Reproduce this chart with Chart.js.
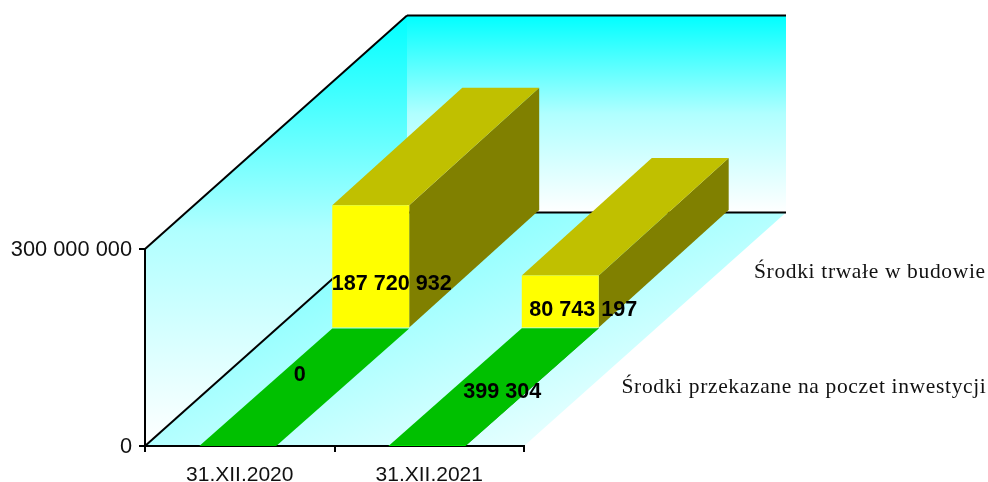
<!DOCTYPE html>
<html>
<head>
<meta charset="utf-8">
<style>
html, body { margin: 0; padding: 0; background: #fff; overflow: hidden; }
#wrap { position: relative; width: 988px; height: 482px; }
</style>
<script src="https://cdn.jsdelivr.net/npm/chart.js@4"></script>
</head>
<body>
<div id="wrap"><canvas id="chart"></canvas></div>
<script>
const categories = ["31.XII.2020", "31.XII.2021"];
const seriesNames = ["Środki przekazane na poczet inwestycji", "Środki trwałe w budowie"];
const advanceValues = [0, 399304];
const constructionValues = [187720932, 80743197];
const yTicks = [0, 300000000];

// full depth of the floor in pixels, and where each row starts and ends along it
const depthX = 262;
const depthY = -233.5;
const rowX = [-2, 131, 261];
const rowY = [0, -117.5, -235];

// front, top, side colours of each row
const faces = [
    { front: "#00ff00", top: "#00c000", side: "#008000" },
    { front: "#ffff00", top: "#c0c000", side: "#808000" }
];

// hand placed value labels, relative to the middle of the front face
const labelNudge = [
    [[62, -71], [75, -53]],
    [[21, 18], [23, 9]]
];
const nameNudge = [[0, -0.5], [1.5, 1.5]];

function spaced(v) {
    return String(v).replace(/\B(?=(\d{3})+$)/g, " ");
}

function poly(ctx, pts, fill) {
    ctx.beginPath();
    ctx.moveTo(pts[0][0], pts[0][1]);
    for (let i = 1; i < pts.length; i++) ctx.lineTo(pts[i][0], pts[i][1]);
    ctx.closePath();
    ctx.fillStyle = fill;
    ctx.fill();
}

function line(ctx, x1, y1, x2, y2) {
    ctx.beginPath();
    ctx.moveTo(x1, y1);
    ctx.lineTo(x2, y2);
    ctx.stroke();
}

function wallGradient(ctx, y1, y2) {
    const g = ctx.createLinearGradient(0, y1, 0, y2);
    g.addColorStop(0, "#00ffff");
    g.addColorStop(0.5, "#b0ffff");
    g.addColorStop(1, "#ffffff");
    return g;
}

const room = {
    id: "room",
    beforeDraw(chart) {
        const ctx = chart.ctx;
        const y = chart.scales.y;
        const { left, right } = chart.chartArea;
        const bottom = y.getPixelForValue(yTicks[0]);
        const top = y.getPixelForValue(yTicks[1]);
        const backBottom = bottom + depthY;
        const backTop = top + depthY;
        const backLeft = left + depthX;
        const backRight = right + depthX;

        // back wall
        poly(ctx, [[backLeft, backTop], [backRight, backTop], [backRight, backBottom], [backLeft, backBottom]],
            wallGradient(ctx, backTop, backBottom));

        // left wall
        poly(ctx, [[left, bottom], [left, top], [backLeft, backTop], [backLeft, backBottom]],
            wallGradient(ctx, backTop, bottom));

        // floor, shaded across its diagonal and not quite white at the front corner
        const nx = backRight - left;
        const ny = backBottom - bottom;
        const len = nx * nx + ny * ny;
        const run = 1.25 * ((right - backLeft) * -ny + (bottom - backBottom) * nx) / len;
        const floor = ctx.createLinearGradient(backLeft, backBottom, backLeft - ny * run, backBottom + nx * run);
        floor.addColorStop(0, "#80ffff");
        floor.addColorStop(1, "#ffffff");
        poly(ctx, [[left, bottom], [backLeft, backBottom], [backRight, backBottom], [right, bottom]], floor);

        ctx.save();
        ctx.strokeStyle = "#000";
        ctx.lineWidth = 2;
        line(ctx, left, top, backLeft, backTop);
        line(ctx, backLeft, backTop, backRight, backTop);
        line(ctx, left, bottom, backLeft, backBottom);
        line(ctx, backLeft, backBottom, backRight, backBottom);
        ctx.restore();
    },
    beforeDatasetDraw(chart, args) {
        const ctx = chart.ctx;
        const i = args.index;
        const dx = rowX[i + 1] - rowX[i];
        const dy = rowY[i + 1] - rowY[i];
        const col = faces[i];
        ctx.save();
        ctx.translate(rowX[i], rowY[i]);
        args.meta.data.forEach(bar => {
            const p = bar.getProps(["x", "y", "base", "width"], true);
            const l = p.x - p.width / 2;
            const r = p.x + p.width / 2;
            poly(ctx, [[r, p.base], [r, p.y], [r + dx, p.y + dy], [r + dx, p.base + dy]], col.side);
            poly(ctx, [[l, p.y], [r, p.y], [r + dx, p.y + dy], [l + dx, p.y + dy]], col.top);
        });
    },
    afterDatasetDraw(chart) {
        chart.ctx.restore();
    },
    afterDatasetsDraw(chart) {
        const ctx = chart.ctx;
        const { right, bottom } = chart.chartArea;
        ctx.save();
        ctx.textBaseline = "middle";
        ctx.fillStyle = "#000";

        // value labels
        ctx.font = "bold 21.6px 'Liberation Sans'";
        ctx.textAlign = "center";
        chart.data.datasets.forEach((ds, i) => {
            chart.getDatasetMeta(i).data.forEach((bar, j) => {
                const p = bar.getProps(["x", "y", "base"], true);
                const [nx, ny] = labelNudge[i][j];
                ctx.fillText(spaced(ds.data[j]), p.x + rowX[i] + nx, (p.y + p.base) / 2 + rowY[i] + ny);
            });
        });

        // series names along the right edge of the floor
        ctx.font = "21.5px 'Liberation Serif'";
        ctx.textAlign = "left";
        ctx.fillStyle = "#111";
        ctx.letterSpacing = "0.65px";
        seriesNames.forEach((name, i) => {
            const ox = depthX * (i + 0.5) / seriesNames.length;
            const oy = depthY * (i + 0.5) / seriesNames.length;
            ctx.fillText(name, right + ox + 32 + nameNudge[i][0], bottom + oy + nameNudge[i][1]);
        });
        ctx.restore();
    }
};

function pinAxis(size) {
    return function (scale) {
        if (scale.isHorizontal()) scale.height = size; else scale.width = size;
        scale.paddingTop = scale.paddingBottom = scale.paddingLeft = scale.paddingRight = 0;
    };
}

new Chart(document.getElementById("chart"), {
    type: "bar",
    data: {
        labels: categories,
        datasets: [
            {
                label: seriesNames[0],
                data: advanceValues,
                backgroundColor: faces[0].front
            },
            {
                label: seriesNames[1],
                data: constructionValues,
                backgroundColor: faces[1].front
            }
        ]
    },
    options: {
        responsive: true,
        maintainAspectRatio: false,
        animation: false,
        events: [],
        grouped: false,
        barPercentage: 0.406,
        categoryPercentage: 1,
        layout: {
            padding: { left: 0, top: 249, right: 464, bottom: 0 }
        },
        plugins: {
            legend: { display: false },
            tooltip: { enabled: false }
        },
        scales: {
            x: {
                afterFit: pinAxis(36),
                grid: { color: "#000", lineWidth: 2, drawOnChartArea: false, tickLength: 6 },
                border: { color: "#000", width: 2 },
                ticks: {
                    color: "#111",
                    padding: 11,
                    maxRotation: 0,
                    font: { family: "'Liberation Sans'", size: 21 }
                }
            },
            y: {
                min: yTicks[0],
                max: yTicks[1],
                afterFit: pinAxis(145),
                grid: { color: "#000", lineWidth: 2, drawOnChartArea: false, tickLength: 6 },
                border: { color: "#000", width: 2 },
                ticks: {
                    stepSize: yTicks[1],
                    color: "#111",
                    padding: 7,
                    labelOffset: 1,
                    font: { family: "'Liberation Sans'", size: 21.8 },
                    callback: v => spaced(v)
                }
            }
        }
    },
    plugins: [room]
});
</script>
</body>
</html>
